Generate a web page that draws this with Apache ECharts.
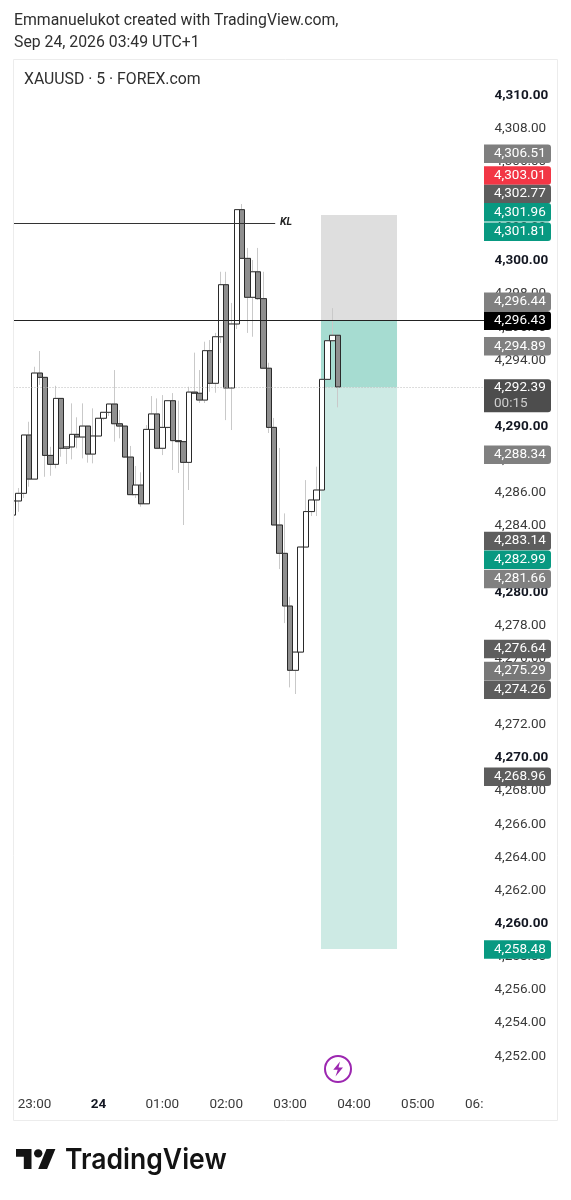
<!DOCTYPE html>
<html>
<head>
<meta charset="utf-8">
<script src="https://cdn.jsdelivr.net/npm/echarts@6/dist/echarts.min.js"></script>
<style>html,body{margin:0;padding:0;background:#fff}#c{width:571px;height:1200px}</style>
</head>
<body>
<div id="c"></div>
<script>
const opens = [4284.66,4285.51,4285.97,4289.49,4286.83,4293.23,4292.97,4288.26,4287.72,4291.70,4288.69,4288.77,4289.53,4289.37,4290.03,4288.34,4289.43,4290.50,4290.86,4291.36,4290.17,4290.03,4288.16,4285.89,4286.47,4285.34,4289.83,4290.76,4288.69,4289.95,4291.56,4289.15,4289.09,4287.84,4292.08,4292.01,4291.60,4294.58,4292.61,4295.42,4298.56,4292.33,4296.19,4303.09,4300.15,4297.80,4299.34,4297.72,4293.52,4289.95,4284.06,4282.35,4279.17,4275.29,4276.39,4282.73,4284.87,4285.57,4286.17,4292.85,4295.18,4295.51];
const closes = [4285.51,4285.97,4289.49,4286.83,4293.23,4292.97,4288.26,4287.72,4291.70,4288.69,4288.77,4289.53,4289.37,4290.03,4288.34,4289.43,4290.50,4290.86,4291.36,4290.17,4290.03,4288.16,4285.89,4286.47,4285.34,4289.83,4290.76,4288.69,4289.95,4291.56,4289.15,4289.09,4287.84,4292.08,4292.01,4291.60,4294.58,4292.61,4295.42,4298.56,4292.33,4296.19,4303.09,4300.15,4297.80,4299.34,4297.72,4293.52,4289.95,4284.06,4282.35,4279.17,4275.29,4276.39,4282.73,4284.87,4285.57,4286.17,4292.85,4295.18,4295.51,4292.39];
const highs = [4285.51,4286.29,4289.49,4290.29,4293.61,4294.56,4292.97,4288.78,4292.46,4291.70,4288.78,4291.40,4290.56,4291.40,4290.03,4291.10,4290.50,4290.86,4291.36,4293.41,4291.00,4290.03,4288.83,4287.62,4287.24,4290.09,4291.84,4291.70,4291.90,4291.60,4292.02,4291.56,4289.09,4292.40,4294.46,4293.41,4295.12,4295.22,4295.65,4299.34,4299.34,4297.46,4303.09,4303.43,4300.78,4300.05,4300.78,4299.34,4293.85,4290.52,4288.71,4284.76,4279.73,4276.39,4282.73,4286.77,4285.57,4287.58,4292.85,4295.18,4297.15,4295.51];
const lows = [4284.66,4284.86,4285.69,4286.37,4286.83,4292.51,4286.97,4287.03,4287.48,4288.18,4287.74,4288.02,4288.69,4288.08,4287.82,4287.78,4289.43,4290.39,4290.64,4289.09,4289.29,4288.10,4285.89,4285.69,4285.16,4285.34,4289.83,4288.69,4288.28,4289.89,4287.38,4287.20,4284.06,4286.17,4292.01,4291.42,4291.42,4292.10,4292.04,4295.04,4290.39,4289.79,4295.89,4300.15,4295.65,4295.42,4297.64,4293.52,4289.61,4284.06,4281.40,4278.14,4274.26,4273.86,4276.39,4282.73,4284.60,4284.60,4286.17,4292.85,4295.10,4291.16];

// 5-minute session labels, starting 22:40
const categories = [];
for (let i = 0; i < 89; i++) {
  const m = 22 * 60 + 40 + i * 5;
  const h = Math.floor(m / 60) % 24, mm = m % 60;
  categories.push(String(h).padStart(2, '0') + ':' + String(mm).padStart(2, '0'));
}

const barCount = 89;
const entryPrice = 4292.39;
const linePrice = 4296.43;
const klPrice = 4302.27;
const stopPrice = 4302.77;
const targetPrice = 4258.48;
const positionStart = 58.3, positionEnd = 72.58, klEnd = 49.7;

const badgeTexts = ['4,306.51','4,303.01','4,302.77','4,301.96','4,301.81','4,296.44','4,296.43','4,294.89','4,292.39','4,288.34','4,283.14','4,282.99','4,281.66','4,276.64','4,275.29','4,274.26','4,268.96','4,258.48'];
const badgeSlots = [4306.51,4305.20,4304.08,4302.97,4301.80,4297.58,4296.43,4294.89,4291.90,4288.34,4283.13,4282.01,4280.84,4276.62,4275.29,4274.16,4268.91,4258.48];
const badgeColors = ['#7f7f7f','#f23645','#5d5d5d','#089981','#089981','#808080','#000000','#808080','#4d4d4d','#808080','#5d5d5d','#089981','#808080','#5d5d5d','#787878','#5d5d5d','#5d5d5d','#089981'];
const countdownText = '00:15';
const countdownIndex = 8;

const FONT = 'Roboto';
const AX = 13.5;
const chart = echarts.init(document.getElementById('c'), null, {renderer: 'canvas'});

const fmtPrice = v => v.toLocaleString('en-US', {minimumFractionDigits: 2, maximumFractionDigits: 2});

const positionBoxes = [
  {top: stopPrice, bottom: linePrice, fill: '#dedede'},
  {top: linePrice, bottom: entryPrice, fill: '#a6dcd1'},
  {top: entryPrice, bottom: targetPrice, fill: '#cdeae4'}
];
const levelLines = [
  {from: 0, to: klEnd, price: klPrice, color: '#333', dash: null, width: 1},
  {from: 0, to: barCount, price: linePrice, color: '#222', dash: null, width: 1},
  {from: 0, to: barCount, price: entryPrice, color: '#bbb', dash: [1, 2], width: 1}
];

chart.setOption({
  animation: false,
  backgroundColor: '#fff',
  grid: {left: 10.54, right: 86.54, top: 62, bottom: 110.6, containLabel: false},
  xAxis: [
    {type: 'category', data: categories, boundaryGap: true,
     axisLine: {show: false}, axisTick: {show: false}, splitLine: {show: false},
     axisLabel: {
       margin: 8, interval: (i, v) => v.endsWith(':00'),
       hideOverlap: false, color: '#3a3a3a', fontFamily: FONT, fontSize: AX,
       formatter: v => v === '00:00' ? '{b|24}' : v,
       rich: {b: {fontWeight: 'bold', fontFamily: FONT, fontSize: AX, color: '#131722'}}
     }},
    {type: 'value', min: 0, max: barCount, show: false}
  ],
  yAxis: {
    type: 'value', position: 'right', min: 4250, max: 4312, interval: 2,
    axisLine: {show: false}, axisTick: {show: false}, splitLine: {show: false},
    axisLabel: {
      margin: 10, align: 'left', color: '#3a3a3a', fontFamily: FONT, fontSize: AX,
      formatter: v => {
        if (v === 4250 || v === 4312) return '';
        return v % 10 === 0 ? '{b|' + fmtPrice(v) + '}' : fmtPrice(v);
      },
      rich: {b: {fontWeight: 'bold', fontFamily: FONT, fontSize: AX, color: '#131722'}}
    }
  },
  series: [
    {type: 'custom', name: 'position', xAxisIndex: 1, z: 1,
     data: positionBoxes.map((b, i) => [positionStart, b.top, i]),
     renderItem: (p, api) => {
       const b = positionBoxes[p.dataIndex];
       const a = api.coord([positionStart, b.top]), c = api.coord([positionEnd, b.bottom]);
       return {type: 'rect', shape: {x: a[0], y: a[1], width: c[0] - a[0], height: c[1] - a[1]}, style: {fill: b.fill}};
     }},
    {type: 'candlestick', name: 'wicks', z: 2, barWidth: 6,
     data: opens.map((o, i) => [o, closes[i], lows[i], highs[i]]),
     itemStyle: {color: 'transparent', color0: 'transparent', borderColor: '#c9c9c9', borderColor0: '#c9c9c9', borderWidth: 1}},
    {type: 'candlestick', name: 'bodies', z: 3, barWidth: 6,
     data: opens.map((o, i) => [o, closes[i], Math.min(o, closes[i]), Math.max(o, closes[i])]),
     itemStyle: {color: '#ffffff', color0: '#8f8f8f', borderColor: '#2a2a2a', borderColor0: '#2a2a2a', borderWidth: 1}},
    {type: 'custom', name: 'levels', xAxisIndex: 1, z: 4,
     data: levelLines.map(l => [l.from, l.price]),
     renderItem: (p, api) => {
       const l = levelLines[p.dataIndex];
       const a = api.coord([l.from, l.price]), c = api.coord([l.to, l.price]);
       const y = Math.round(a[1]) + 0.5;
       return {type: 'line', shape: {x1: a[0], y1: y, x2: c[0], y2: y},
               style: {stroke: l.color, lineWidth: l.width, lineDash: l.dash}};
     }},
    {type: 'custom', name: 'badges', xAxisIndex: 1, z: 10, clip: false,
     data: badgeSlots.map(s => [barCount, s]),
     renderItem: (p, api) => {
       const i = p.dataIndex;
       const c = api.coord([barCount, badgeSlots[i]]);
       const cy = c[1] + 0.7;
       const tall = i === countdownIndex;
       const h = tall ? 33 : 18.5;
       const kids = [
         {type: 'rect', shape: {x: 484, y: cy - h / 2, width: 67, height: h, r: [0, 3, 3, 0]},
          style: {fill: badgeColors[i]}},
         {type: 'text', style: {x: 494, y: tall ? cy - 8 : cy, text: badgeTexts[i], fill: '#fff',
           font: AX + 'px ' + FONT, verticalAlign: 'middle'}}
       ];
       if (tall) kids.push({type: 'text', style: {x: 494, y: cy + 7.5, text: countdownText, fill: '#cfcfcf',
           font: AX + 'px ' + FONT, verticalAlign: 'middle'}});
       return {type: 'group', children: kids};
     }}
  ],
  graphic: [
    {type: 'rect', z: 50, shape: {x: 0, y: 59, width: 13.5, height: 1062}, style: {fill: '#fff'}},
    {type: 'rect', z: 50, shape: {x: 483, y: 1094, width: 60, height: 20}, style: {fill: '#fff'}},
    {type: 'rect', z: 51, shape: {x: 13.5, y: 59.5, width: 544, height: 1061}, style: {fill: 'transparent', stroke: '#ececec', lineWidth: 1}},
    {type: 'text', z: 60, style: {x: 14, y: 21, text: 'Emmanuelukot created with TradingView.com,', fill: '#2f2f2f', font: '15.8px ' + FONT, verticalAlign: 'middle'}},
    {type: 'text', z: 60, style: {x: 14, y: 43, text: 'Sep 24, 2026 03:49 UTC+1', fill: '#2f2f2f', font: '15.8px ' + FONT, verticalAlign: 'middle'}},
    {type: 'text', z: 60, style: {x: 24, y: 80, text: 'XAUUSD · 5 · FOREX.com', fill: '#2f2f2f', font: '15.8px ' + FONT, verticalAlign: 'middle'}},
    {type: 'text', z: 60, style: {x: 280, y: 222, text: 'KL', fill: '#222', font: 'italic bold 10.5px ' + FONT, verticalAlign: 'middle'}},
    {type: 'circle', z: 60, shape: {cx: 338, cy: 1069, r: 13}, style: {fill: '#fff', stroke: '#9c27b0', lineWidth: 2}},
    {type: 'polygon', z: 61, shape: {points: [[340,1061.5],[333.25,1069.75],[337.75,1069.75],[335.5,1076.5],[343,1067.5],[338.5,1067.5]]}, style: {fill: '#9c27b0'}},
    {type: 'polygon', z: 60, shape: {points: [[16,1149],[31.5,1149],[31.5,1169],[23.8,1169],[23.8,1156.8],[16,1156.8]]}, style: {fill: '#131313'}},
    {type: 'polygon', z: 60, shape: {points: [[46.5,1149],[55.4,1149],[47.1,1169],[38.2,1169]]}, style: {fill: '#131313'}},
    {type: 'circle', z: 60, shape: {cx: 38.2, cy: 1153.4, r: 4.2}, style: {fill: '#131313'}},
    {type: 'text', z: 60, x: 65, y: 1160, scaleX: 0.915, style: {x: 0, y: 0, text: 'TradingView', fill: '#131313', font: '600 29px Inter', verticalAlign: 'middle'}}
  ]
});
</script>
</body>
</html>
